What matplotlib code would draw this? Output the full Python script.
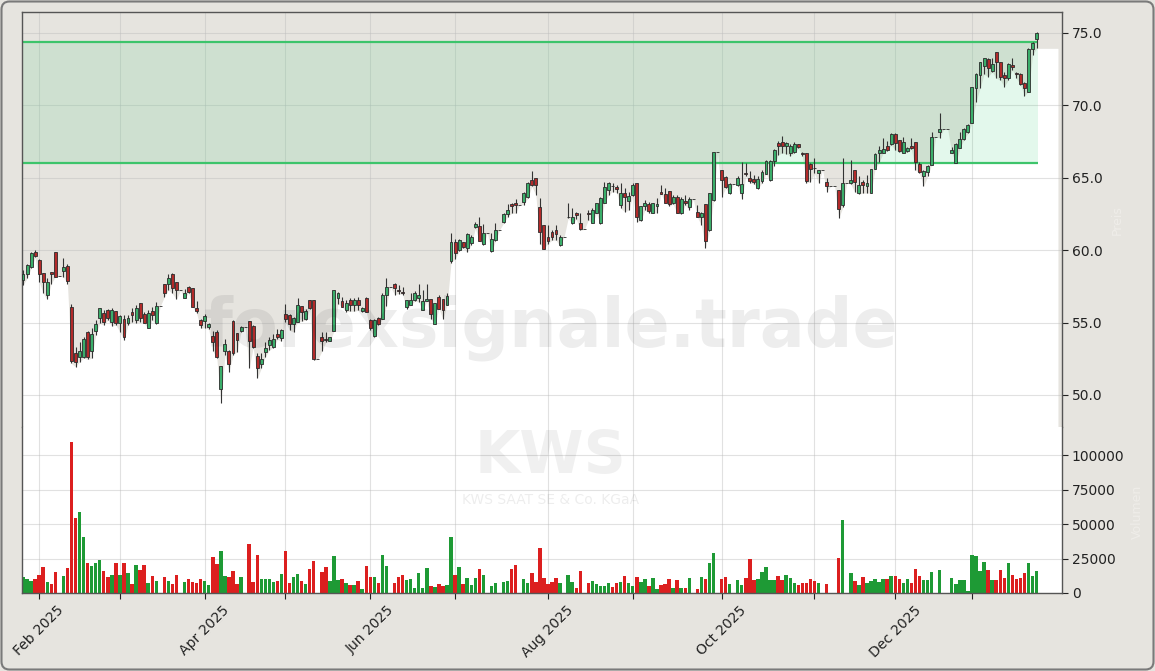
import numpy as np
import pandas as pd
import matplotlib
matplotlib.use("Agg")
import matplotlib.pyplot as plt
from matplotlib.patches import FancyBboxPatch

# ── Daily OHLC (KWS, 28 Jan 2025 - 26 Jan 2026) ──────────────────────────────
opens = [
    57.93, 58.39, 58.85, 59.89, 59.31, 58.44, 56.90, 58.50, 59.86, 58.20,
    58.57, 58.90, 56.09, 52.87, 52.64, 52.64, 54.37, 53.03, 54.43, 55.35,
    55.63, 55.86, 55.06, 55.79, 54.94, 55.22, 54.94, 55.70, 55.17, 56.32,
    55.58, 54.66, 55.79, 54.94, 56.14, 57.70, 57.70, 58.39, 57.77, 57.24,
    56.73, 57.47, 57.36, 56.04, 55.17, 55.12, 54.71, 54.07, 54.37, 50.39,
    53.03, 53.05, 55.12, 54.25, 54.43, 54.71, 55.12, 54.76, 52.69, 52.11,
    52.99, 53.45, 53.33, 54.18, 53.93, 55.62, 55.55, 54.93, 55.04, 56.13,
    55.23, 56.59, 56.54, 52.46, 53.98, 53.89, 53.70, 54.42, 56.71, 56.48,
    55.85, 56.54, 56.20, 56.54, 55.80, 56.73, 55.16, 54.05, 55.34, 55.23,
    56.94, 57.47, 57.65, 57.28, 57.12, 56.08, 56.24, 56.59, 56.71, 55.85,
    56.48, 56.61, 54.93, 56.78, 56.61, 56.24, 59.27, 60.59, 60.01, 60.54,
    60.17, 60.47, 61.63, 61.67, 60.40, 61.21, 59.94, 60.68, 61.40, 61.93,
    62.48, 63.17, 63.24, 63.13, 63.31, 63.70, 64.86, 64.97, 63.01, 61.73,
    60.92, 61.27, 61.38, 60.34, 60.92, 62.27, 61.85, 62.54, 61.89, 61.43,
    62.57, 61.89, 62.59, 61.85, 63.28, 64.16, 64.44, 64.35, 63.12, 63.93,
    63.42, 63.82, 64.63, 62.08, 63.05, 63.19, 62.59, 63.05, 64.05, 63.88,
    64.12, 63.24, 63.65, 62.54, 63.42, 63.01, 63.51, 62.64, 62.31, 63.19,
    61.38, 63.47, 66.76, 65.55, 65.04, 63.93, 64.58, 64.51, 63.93, 65.35,
    65.00, 64.90, 64.28, 64.79, 65.27, 64.86, 66.13, 67.40, 67.45, 67.17,
    66.74, 66.76, 67.34, 66.74, 66.74, 65.96, 65.70, 65.31, 65.55, 64.74,
    64.40, 64.40, 64.17, 63.13, 64.63, 64.63, 65.55, 63.94, 64.74, 64.40,
    63.98, 65.61, 66.70, 66.74, 67.22, 67.34, 68.03, 67.62, 66.74, 66.85,
    67.22, 67.45, 65.96, 65.09, 65.43, 65.89, 67.80, 68.19, 68.35, 68.35,
    66.74, 66.05, 67.09, 67.66, 68.19, 68.77, 71.23, 72.10, 72.74, 73.20,
    72.40, 73.66, 72.97, 72.10, 71.87, 72.78, 72.22, 72.15, 71.53, 70.95,
    73.89, 74.58,
]
highs = [
    58.62, 59.08, 59.89, 60.00, 59.36, 58.44, 58.11, 58.50, 59.86, 58.20,
    59.49, 59.03, 56.27, 53.33, 53.68, 54.02, 54.43, 54.66, 55.17, 56.04,
    55.86, 55.91, 55.98, 55.79, 55.52, 55.52, 55.52, 55.98, 56.21, 56.37,
    55.75, 55.86, 56.09, 56.44, 56.14, 57.70, 58.39, 58.44, 57.82, 57.24,
    57.29, 57.52, 57.42, 56.50, 55.22, 55.58, 54.94, 54.43, 54.48, 52.00,
    53.84, 53.10, 55.17, 54.25, 54.76, 54.71, 55.12, 54.83, 52.92, 52.87,
    53.68, 54.02, 54.20, 54.53, 54.58, 56.31, 55.62, 55.39, 56.71, 56.13,
    55.97, 56.59, 56.54, 52.46, 54.35, 54.35, 54.00, 57.28, 57.12, 56.78,
    56.54, 56.71, 56.71, 56.78, 56.08, 56.78, 55.23, 55.23, 55.39, 57.01,
    58.09, 57.47, 57.75, 57.58, 57.47, 56.59, 57.01, 57.17, 57.65, 57.24,
    57.65, 56.61, 56.36, 56.94, 56.66, 57.01, 61.16, 60.77, 60.77, 60.54,
    61.16, 61.05, 61.97, 62.32, 61.79, 61.21, 61.16, 61.86, 61.40, 62.60,
    63.17, 63.29, 63.52, 63.13, 64.05, 64.70, 65.48, 64.97, 63.58, 61.73,
    61.73, 61.38, 61.73, 61.04, 60.92, 63.24, 62.89, 62.66, 62.54, 61.43,
    62.77, 62.89, 63.28, 63.70, 64.74, 64.74, 64.63, 64.51, 64.63, 64.28,
    64.05, 64.67, 64.67, 63.05, 63.47, 63.35, 63.28, 63.63, 64.51, 64.28,
    64.12, 63.82, 63.82, 63.70, 63.82, 63.70, 63.51, 63.12, 62.66, 63.19,
    63.93, 66.80, 66.76, 65.55, 65.09, 64.63, 64.58, 65.09, 66.08, 66.01,
    65.44, 65.20, 65.09, 65.55, 66.25, 66.25, 66.99, 67.52, 67.87, 67.45,
    67.32, 67.45, 67.34, 66.81, 66.74, 66.01, 66.40, 65.55, 65.55, 64.97,
    64.40, 64.40, 64.17, 66.40, 64.63, 66.24, 65.55, 65.09, 64.86, 65.20,
    65.59, 66.70, 67.20, 67.73, 67.55, 68.08, 68.08, 67.62, 67.85, 67.16,
    67.73, 67.50, 66.12, 65.55, 65.89, 68.14, 67.80, 69.46, 68.35, 68.35,
    67.16, 67.39, 68.14, 68.42, 68.70, 71.30, 72.22, 73.02, 73.30, 73.25,
    73.25, 73.71, 73.02, 72.33, 72.95, 73.25, 72.33, 72.22, 71.59, 73.94,
    74.35, 75.04,
]
lows = [
    57.59, 58.05, 58.74, 59.50, 57.82, 57.01, 56.60, 57.70, 58.16, 58.20,
    58.16, 57.70, 52.18, 51.95, 52.30, 52.53, 52.46, 52.53, 54.14, 54.94,
    54.83, 55.17, 54.76, 54.83, 54.37, 53.79, 54.83, 55.06, 54.99, 55.06,
    54.94, 54.60, 55.17, 54.89, 56.14, 56.78, 57.24, 57.01, 56.60, 57.24,
    56.67, 57.06, 56.09, 55.63, 54.60, 54.66, 54.53, 53.03, 52.53, 49.42,
    52.76, 51.61, 52.76, 52.99, 54.37, 54.71, 51.84, 53.28, 51.15, 51.84,
    52.64, 53.10, 53.28, 53.84, 53.70, 55.04, 54.47, 54.35, 55.04, 55.09,
    55.16, 55.92, 52.39, 52.46, 53.01, 53.66, 53.70, 54.42, 56.31, 56.08,
    55.74, 55.78, 55.78, 55.85, 55.74, 55.74, 54.47, 54.00, 54.81, 55.23,
    56.15, 57.47, 56.94, 57.00, 56.94, 55.92, 56.20, 56.48, 56.43, 55.85,
    56.48, 55.23, 54.88, 55.97, 55.23, 56.20, 59.15, 59.39, 59.94, 60.13,
    59.85, 60.36, 61.51, 60.63, 60.36, 61.21, 59.85, 60.63, 61.40, 61.86,
    62.32, 62.55, 62.55, 63.13, 63.13, 63.59, 64.40, 63.82, 60.46, 60.11,
    60.46, 60.69, 60.69, 60.27, 60.92, 62.20, 61.80, 62.13, 61.38, 61.43,
    62.08, 61.85, 62.54, 61.80, 63.28, 63.82, 64.05, 63.98, 62.89, 62.66,
    62.77, 63.75, 61.96, 62.03, 62.77, 62.54, 62.54, 62.59, 63.88, 63.28,
    63.05, 63.19, 62.54, 62.50, 63.12, 62.77, 63.51, 62.27, 61.73, 60.18,
    61.34, 63.42, 66.76, 63.70, 64.28, 63.88, 64.58, 64.44, 63.51, 65.09,
    64.63, 64.58, 64.21, 64.67, 65.25, 64.81, 65.83, 66.59, 66.71, 66.66,
    66.53, 66.70, 67.04, 66.53, 64.63, 64.74, 65.31, 64.63, 65.55, 64.05,
    64.40, 64.40, 62.21, 62.95, 64.63, 64.56, 64.00, 63.87, 63.94, 63.94,
    63.94, 65.61, 66.07, 66.70, 66.85, 67.27, 66.93, 66.76, 66.70, 66.76,
    67.00, 65.55, 65.31, 64.40, 65.09, 65.89, 67.80, 67.78, 68.35, 68.35,
    66.70, 66.05, 67.04, 67.62, 68.08, 68.77, 70.26, 71.18, 72.15, 71.98,
    72.33, 71.87, 71.76, 71.30, 71.76, 72.45, 71.87, 71.41, 70.67, 70.95,
    73.48, 73.94,
]
closes = [
    58.39, 58.97, 59.82, 59.60, 58.39, 57.82, 57.82, 58.39, 58.16, 58.20,
    58.85, 57.88, 52.36, 52.30, 53.03, 53.86, 52.59, 54.18, 54.89, 56.04,
    55.06, 55.35, 55.86, 54.94, 55.45, 54.02, 55.35, 55.55, 55.98, 55.35,
    54.94, 55.68, 55.52, 56.14, 56.14, 57.01, 58.11, 57.42, 57.24, 57.24,
    57.06, 57.13, 56.09, 55.81, 54.83, 55.45, 54.89, 53.68, 52.59, 52.00,
    53.49, 52.13, 52.87, 53.79, 54.71, 54.71, 53.74, 53.33, 51.88, 52.46,
    53.28, 53.79, 53.86, 54.02, 54.47, 55.27, 54.93, 55.34, 56.24, 55.74,
    55.78, 56.01, 52.46, 52.46, 53.70, 53.77, 54.00, 57.28, 57.01, 56.08,
    56.36, 56.20, 56.54, 56.20, 56.04, 55.74, 54.63, 55.16, 54.88, 56.94,
    57.47, 57.47, 57.40, 57.17, 57.01, 56.54, 56.54, 57.05, 56.94, 56.48,
    56.60, 55.62, 56.36, 55.97, 55.85, 56.82, 60.54, 59.78, 60.70, 60.20,
    61.09, 60.93, 61.81, 60.63, 61.21, 61.21, 60.77, 61.40, 61.40, 62.50,
    62.78, 63.08, 63.13, 63.13, 63.98, 64.63, 64.51, 64.51, 61.27, 60.11,
    60.62, 60.88, 61.11, 60.92, 60.92, 62.31, 62.27, 62.43, 61.43, 61.43,
    62.48, 62.77, 63.24, 63.58, 64.35, 64.63, 64.40, 64.21, 63.93, 63.70,
    63.75, 64.47, 62.27, 63.05, 63.28, 62.70, 63.28, 63.19, 63.88, 63.28,
    63.19, 63.65, 62.59, 63.54, 63.24, 63.51, 63.51, 62.31, 62.59, 60.64,
    63.93, 66.76, 66.76, 64.86, 64.35, 64.58, 64.58, 65.02, 64.58, 65.25,
    64.80, 64.70, 64.90, 65.39, 66.13, 66.13, 66.90, 67.17, 67.22, 67.40,
    67.22, 67.34, 67.11, 66.63, 64.81, 65.59, 65.66, 65.55, 65.55, 64.40,
    64.40, 64.40, 62.85, 64.63, 64.63, 64.86, 64.69, 64.51, 64.51, 64.63,
    65.59, 66.63, 66.93, 66.99, 66.93, 68.03, 67.39, 66.85, 67.45, 67.09,
    67.04, 66.07, 65.43, 65.50, 65.82, 67.80, 67.80, 68.35, 68.35, 68.35,
    66.93, 67.32, 67.66, 68.37, 68.65, 71.25, 72.15, 72.97, 73.25, 72.56,
    72.86, 72.97, 71.94, 71.92, 72.86, 72.68, 72.15, 71.46, 71.23, 73.89,
    74.29, 74.98,
]
volumes = [
    11350, 10140, 8690, 10140, 13040, 18840, 7970, 6520, 15210, 0,
    12300, 18100, 109600, 54300, 58700, 40600, 21700, 19600, 21700, 23900,
    15900, 11600, 13000, 21700, 13000, 21700, 14500, 6500, 20300, 16700,
    20300, 7200, 12300, 8700, 0, 11600, 8700, 6500, 13000, 0,
    8000, 10100, 8000, 7200, 10100, 8700, 5800, 26100, 21000, 30400,
    12300, 11600, 15900, 6500, 11600, 0, 35500, 8000, 27500, 10100,
    10100, 10100, 8000, 8700, 13800, 30400, 7200, 11600, 13800, 8700,
    6500, 17400, 23200, 0, 15200, 18800, 8700, 26800, 9400, 10100,
    7200, 5800, 5800, 8700, 2900, 19600, 11600, 11600, 7200, 27500,
    19600, 0, 7200, 11600, 13000, 9400, 10100, 3600, 14500, 3600,
    18100, 5100, 4300, 6500, 5100, 5800, 40600, 13000, 18800, 6500,
    10900, 5800, 10900, 17400, 13000, 0, 5100, 7200, 0, 8000,
    8700, 17400, 20300, 0, 10100, 7200, 14200, 7700, 32400, 10600,
    6300, 7700, 10600, 7000, 0, 13000, 7700, 3400, 15900, 0,
    7000, 8700, 6300, 4800, 5300, 7000, 4100, 7000, 7700, 12100,
    7000, 5100, 11400, 7700, 10100, 5100, 10600, 2700, 5800, 6300,
    9900, 3400, 9200, 3400, 3400, 10600, 0, 2700, 11400, 9900,
    21500, 28700, 0, 9900, 11400, 6300, 0, 9200, 6000, 10600,
    24400, 9200, 9900, 15000, 18600, 9200, 9200, 12100, 9200, 12800,
    10600, 7000, 5600, 7000, 7000, 9900, 8500, 7000, 0, 6300,
    0, 0, 25100, 52900, 0, 14200, 8500, 5600, 11400, 7000,
    8500, 9900, 7700, 9900, 9900, 12300, 12100, 9900, 7000, 9900,
    7000, 17400, 12100, 9200, 9200, 15000, 0, 16400, 0, 0,
    10600, 6300, 9200, 9200, 1400, 27500, 26600, 15900, 22200, 16400,
    9200, 9200, 16400, 10600, 21500, 12800, 9900, 10600, 14200, 21500,
    12300, 15900,
]

# Xetra holidays inside the window
holidays = ["2025-04-18", "2025-04-21", "2025-05-01", "2025-12-24",
            "2025-12-25", "2025-12-26", "2025-12-31", "2026-01-01"]
dates = pd.bdate_range("2025-01-28", "2026-01-26", freq="C", holidays=holidays)

zone_low, zone_high = 66.05, 74.40
price_ticks = [50.0, 55.0, 60.0, 65.0, 70.0, 75.0]
volume_ticks = [0, 25000, 50000, 75000, 100000]

# ── Style ─────────────────────────────────────────────────────────────────────
BG = "#E6E4DF"
UP, DOWN = "#3AAE6A", "#B22A2A"
VUP, VDOWN = "#1E9A35", "#DC1F1F"
EDGE = "#2B2B2B"
SPINE = "#555555"

o, h, l, c = (np.array(a) for a in (opens, highs, lows, closes))
v = np.array(volumes)
x = np.arange(len(c))
up = c >= o
xmin, xmax = -0.25, 257.3

W, H = 1155, 671
fig = plt.figure(figsize=(W / 100, H / 100), dpi=100, facecolor=BG)
ax = fig.add_axes([22 / W, 1 - 427 / H, 1040 / W, 415 / H])
axv = fig.add_axes([22 / W, 1 - 593 / H, 1040 / W, 166 / H], sharex=ax)

# month starts (first trading day of each month)
months = dates.to_period("M")
month_idx = [i for i in range(1, len(dates)) if months[i] != months[i - 1]]
month_lbl = [dates[i].strftime("%b %Y") if dates[i].month % 2 == 0 else ""
             for i in month_idx]

# ── Price panel ───────────────────────────────────────────────────────────────
ax.set_facecolor(BG)
ax.set_xlim(xmin, xmax)
ax.set_ylim(47.79, 76.45)

xs = np.concatenate([[xmin], x, [x[-1] + 5.3]])
ls = np.concatenate([[l[0]], l, [l[-1]]])
ax.fill_between(xs, 40, ls, color="white", lw=0, zorder=0.2)

ax.fill_between([xmin, x[-1] + 0.3], zone_low, zone_high,
                color="#2ECC71", alpha=0.13, lw=0, zorder=1)
ax.hlines([zone_low, zone_high], xmin, x[-1] + 0.3,
          colors="#3DC46B", lw=1.6, zorder=1.5)

ax.vlines(x, l, h, color="#333333", lw=0.8, zorder=3)
ax.bar(x, np.abs(c - o), bottom=np.minimum(o, c), width=0.72,
       color=np.where(up, UP, DOWN), edgecolor=EDGE, linewidth=0.6, zorder=4)

ax.set_xticks(month_idx)
ax.tick_params(axis="x", bottom=False, labelbottom=False)
ax.yaxis.tick_right()
ax.set_yticks(price_ticks)
ax.set_yticklabels([f"{t:.1f}" for t in price_ticks])
ax.tick_params(axis="y", direction="out", length=4, labelsize=10,
               colors="#222222", pad=3)
ax.grid(True, color="#BDBDBD", alpha=0.45, lw=0.8)
ax.set_axisbelow(True)

# ── Volume panel ──────────────────────────────────────────────────────────────
axv.set_facecolor("white")
axv.bar(x, v, width=0.85, color=np.where(up, VUP, VDOWN), lw=0, zorder=2)
axv.set_ylim(0, v.max() * 1.1)
axv.yaxis.tick_right()
axv.set_yticks(volume_ticks)
axv.set_yticklabels([str(t) for t in volume_ticks])
axv.tick_params(axis="y", direction="out", length=4, labelsize=10,
                colors="#222222", pad=3)
axv.set_xticks(month_idx)
axv.set_xticklabels(month_lbl, rotation=45, fontsize=10)
axv.tick_params(axis="x", direction="out", length=4, colors="#222222")
axv.grid(True, color="#BDBDBD", alpha=0.45, lw=0.8)
axv.set_axisbelow(True)

for a in (ax, axv):
    for s in a.spines.values():
        s.set_color(SPINE)
        s.set_linewidth(1.0)
ax.spines["bottom"].set_visible(False)
axv.spines["top"].set_visible(False)

# faint axis labels on the right
fig.text(1117 / W, 1 - 220 / H, "Preis", rotation=90, fontsize=9,
         color="#EFEDE9", ha="center", va="center")
fig.text(1137 / W, 1 - 512 / H, "Volumen", rotation=90, fontsize=9,
         color="#EFEDE9", ha="center", va="center")

# watermarks
fig.text(551 / W, 1 - 328 / H, "forexsignale.trade", fontsize=48,
         fontweight="bold", color="black", alpha=0.07, ha="center", va="center")
fig.text(551 / W, 1 - 457 / H, "KWS", fontsize=42, fontweight="bold",
         color="black", alpha=0.06, ha="center", va="center")
fig.text(551 / W, 1 - 500 / H, "KWS SAAT SE & Co. KGaA", fontsize=10,
         color="black", alpha=0.07, ha="center", va="center")

# rounded outer frame
frame = FancyBboxPatch((1.5, 1.5), W - 3, H - 3,
                       boxstyle="round,pad=0,rounding_size=8",
                       transform=None, fill=False, edgecolor="#7A7A7A", lw=1.5)
fig.patches.append(frame)

fig.savefig("out.png", dpi=100, facecolor=BG)
